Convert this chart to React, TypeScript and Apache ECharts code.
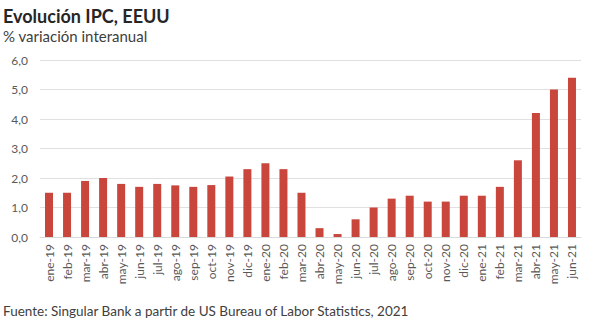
import React, { useEffect, useRef } from "react";
import * as echarts from "echarts";

const categories = [
  "ene-19","feb-19","mar-19","abr-19","may-19","jun-19","jul-19","ago-19","sep-19","oct-19","nov-19","dic-19",
  "ene-20","feb-20","mar-20","abr-20","may-20","jun-20","jul-20","ago-20","sep-20","oct-20","nov-20","dic-20",
  "ene-21","feb-21","mar-21","abr-21","may-21","jun-21",
];
const ipcValues = [
  1.5, 1.5, 1.9, 2.0, 1.8, 1.7, 1.8, 1.75, 1.7, 1.76, 2.05, 2.3,
  2.5, 2.3, 1.5, 0.3, 0.1, 0.6, 1.0, 1.3, 1.4, 1.2, 1.2, 1.4,
  1.4, 1.7, 2.6, 4.2, 5.0, 5.4,
];
const title = "Evolución IPC, EEUU";
const subtitle = "% variación interanual";
const source = "Fuente: Singular Bank a partir de US Bureau of Labor Statistics, 2021";

const FONT = "Lato, 'Open Sans', sans-serif";

export default function App() {
  const ref = useRef<HTMLDivElement>(null);
  useEffect(() => {
    if (!ref.current) return;
    const chart = echarts.init(ref.current, null, { renderer: "svg" });
    chart.setOption({
      animation: false,
      backgroundColor: "#ffffff",
      textStyle: { fontFamily: FONT },
      title: [
        { text: title, left: 3, top: 7, padding: 0, textStyle: { fontFamily: FONT, fontSize: 18, fontWeight: "bold", color: "#262626" } },
        { text: subtitle, left: 3, top: 28, padding: 0, textStyle: { fontFamily: FONT, fontSize: 15, fontWeight: "normal", color: "#404040" } },
        { text: source, left: 3, top: 304, padding: 0, textStyle: { fontFamily: FONT, fontSize: 13.5, fontWeight: "normal", color: "#404040" } },
      ],
      grid: { left: 40, right: 19, top: 60, bottom: 94, containLabel: false },
      xAxis: {
        type: "category",
        data: categories,
        axisLine: { show: true, lineStyle: { color: "#d9d9d9" } },
        axisTick: { show: false },
        axisLabel: { rotate: 90, interval: 0, fontSize: 12, color: "#595959", margin: 7, fontFamily: FONT },
      },
      yAxis: {
        type: "value",
        min: 0,
        max: 6,
        interval: 1,
        axisLine: { show: false },
        axisTick: { show: false },
        splitLine: { lineStyle: { color: "#e0e0e0", width: 1 } },
        axisLabel: {
          fontSize: 12,
          color: "#595959",
          margin: 12,
          fontFamily: FONT,
          formatter: (v: number) => v.toFixed(1).replace(".", ","),
        },
      },
      series: [
        {
          type: "bar",
          data: ipcValues,
          barWidth: 8,
          itemStyle: { color: "#c9463d" },
        },
      ],
    });
    return () => chart.dispose();
  }, []);
  return <div ref={ref} style={{ width: 600, height: 331, position: "absolute", left: 0, top: 0 }} />;
}
